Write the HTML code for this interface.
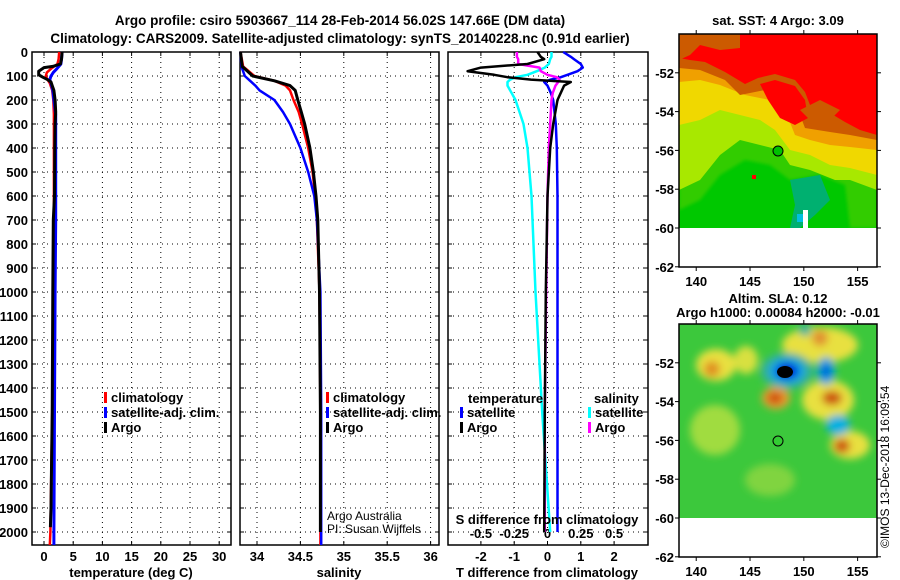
<!DOCTYPE html>
<html><head><meta charset="utf-8">
<style>
body{margin:0;background:#fff;}
svg{display:block;font-family:"Liberation Sans",sans-serif;}
.b{font-weight:bold;font-size:13px;}
.t{font-weight:bold;font-size:13.5px;}
</style></head>
<body>
<svg id="fig" width="900" height="580" viewBox="0 0 900 580" xmlns="http://www.w3.org/2000/svg">
<defs>
<filter id="blur3"><feGaussianBlur stdDeviation="4"/></filter>
<filter id="blur1"><feGaussianBlur stdDeviation="1.5"/></filter>
<clipPath id="m1c"><rect x="679" y="34" width="198" height="194"/></clipPath>
<clipPath id="m2c"><rect x="679" y="324" width="198" height="194"/></clipPath>
</defs>
<text class="t" x="340" y="25" text-anchor="middle">Argo profile: csiro 5903667_114 28-Feb-2014 56.02S 147.66E (DM data)</text>
<text class="t" x="340" y="43" text-anchor="middle">Climatology: CARS2009. Satellite-adjusted climatology: synTS_20140228.nc (0.91d earlier)</text>

<!-- Map 1 SST -->
<g>
<g clip-path="url(#m1c)">
<rect x="679" y="34" width="198" height="194" fill="#00c800"/>
<path d="M679 34H877V228H850L845 185L820 175L790 180L770 165L745 160L720 175L700 200L679 210Z" fill="#33cc00" filter="url(#blur1)"/>
<path d="M679 34H877V190L850 180L835 180L810 170L790 165L780 150L760 145L740 140L720 155L700 180L679 190Z" fill="#a8e800"/>
<path d="M679 34H877V175L850 168L830 165L810 155L790 150L775 130L760 120L740 115L720 110L700 120L679 125Z" fill="#f0d800"/>
<path d="M679 34H877V150L850 147L830 145L810 140L795 135L785 110L770 100L745 95L720 85L700 80L679 82Z" fill="#f0a000"/>
<path d="M679 34H877V140L850 135L830 132L805 128L800 115L790 95L775 88L755 92L740 95L725 80L700 70L679 68Z" fill="#cc5a00"/>
<path d="M679 34H877V135L860 130L845 122L825 110L810 105L805 92L795 80L775 74L758 78L745 84L725 72L705 62L690 60L679 58Z" fill="#ff0000"/>
<path d="M679 34H740V48L720 50L700 45L690 55L679 60Z" fill="#cc5a00"/>
<path d="M760 84L775 80L795 86L805 100L808 118L795 125L780 118L768 100Z" fill="#ff0000"/>
<path d="M800 110L820 100L840 110L830 120L810 120Z" fill="#cc5a00"/>
<path d="M790 180L820 175L830 200L815 215L800 228H790L795 205Z" fill="#00b070"/>
<rect x="803" y="210" width="5" height="18" fill="#fff"/>
<rect x="797" y="214" width="6" height="8" fill="#00c0e0"/>
<rect x="752" y="175" width="4" height="4" fill="#ff0000"/>
</g>
<rect x="679" y="228" width="198" height="39" fill="#fff"/>
<circle cx="778" cy="151" r="5" fill="#00c000" stroke="#000" stroke-width="1"/>
<rect x="679" y="34" width="198" height="233" fill="none" stroke="#000" stroke-width="1.5"/>
<text class="b" x="778" y="25" text-anchor="middle">sat. SST: 4 Argo: 3.09</text>
</g>
<g id="m1axes"></g>

<!-- Map 2 SLA -->
<g>
<g clip-path="url(#m2c)">
<rect x="679" y="324" width="198" height="194" fill="#3cc83c"/>
<g filter="url(#blur3)">
<ellipse cx="716" cy="365" rx="20" ry="16" fill="#e8e040"/>
<ellipse cx="746" cy="360" rx="12" ry="14" fill="#d8e040"/>
<ellipse cx="820" cy="345" rx="38" ry="18" fill="#e8e040"/>
<ellipse cx="828" cy="400" rx="26" ry="20" fill="#e8e040"/>
<ellipse cx="850" cy="445" rx="20" ry="14" fill="#e8e040"/>
<ellipse cx="715" cy="430" rx="25" ry="25" fill="#a0dc40"/>
<ellipse cx="770" cy="480" rx="25" ry="16" fill="#80d440"/>
<ellipse cx="712" cy="369" rx="8" ry="8" fill="#e09020"/>
<ellipse cx="776" cy="398" rx="14" ry="11" fill="#f0a030"/>
<ellipse cx="775" cy="398" rx="8" ry="6" fill="#cc5010"/>
<ellipse cx="832" cy="398" rx="10" ry="7" fill="#cc5010"/>
<ellipse cx="842" cy="446" rx="8" ry="7" fill="#cc5010"/>
<ellipse cx="820" cy="338" rx="8" ry="8" fill="#e09030"/>
<ellipse cx="787" cy="371" rx="26" ry="18" fill="#30b0a0"/>
<ellipse cx="787" cy="371" rx="17" ry="12" fill="#00a0f0"/>
<ellipse cx="787" cy="371" rx="11" ry="8" fill="#0000d0"/>
<ellipse cx="826" cy="371" rx="9" ry="14" fill="#00a0e0"/>
<ellipse cx="826" cy="371" rx="3" ry="6" fill="#0000d0"/>
<ellipse cx="838" cy="425" rx="12" ry="10" fill="#00b0e0"/>
<ellipse cx="805" cy="330" rx="6" ry="6" fill="#30b0a0"/>
</g>
<ellipse cx="785" cy="372" rx="8" ry="6" fill="#000"/>
</g>
<rect x="679" y="518" width="198" height="39" fill="#fff"/>
<circle cx="778" cy="441" r="5" fill="#33cc33" stroke="#000" stroke-width="1"/>
<rect x="679" y="324" width="198" height="233" fill="none" stroke="#000" stroke-width="1.5"/>
<text class="b" x="778" y="303" text-anchor="middle">Altim. SLA: 0.12</text>
<text class="b" x="778" y="317" text-anchor="middle">Argo h1000: 0.00084 h2000: -0.01</text>
</g>
<g id="m2axes"></g>
<text font-size="12" transform="translate(889,548) rotate(-90)">©IMOS 13-Dec-2018 16:09:54</text>

<g id="p1"></g><g id="p2"></g><g id="p3"></g>
</svg>
<script>
// ---- data ----
const depthArgo = [0,30,50,60,65,80,95,105,115,125,140,160,200,250,300,400,600,700,1000,1500,1900,1980];
const tempArgo  = [3.1,3.0,2.8,1.5,0.0,-0.9,-0.9,-0.2,0.6,1.2,1.4,1.7,1.9,2.0,1.9,1.85,1.8,1.6,1.5,1.4,1.2,1.1];
const depthClim = [0,30,50,70,85,100,115,130,160,200,260,400,700,1000,1500,2000,2054];
const tempClim  = [2.6,2.5,2.3,1.2,0.5,0.3,0.6,1.0,1.4,1.6,1.7,1.7,1.7,1.6,1.4,1.1,1.0];
const tempSat   = [3.1,3.0,2.9,2.2,1.6,1.2,1.0,1.2,1.5,1.7,2.0,2.0,2.0,1.9,1.8,1.7,1.7];
const depthSal  = [0,60,100,120,140,160,200,250,300,400,500,600,700,1000,1500,2000,2054];
const salArgo   = [33.81,33.83,33.95,34.2,34.38,34.44,34.47,34.51,34.55,34.61,34.65,34.68,34.70,34.72,34.73,34.73,34.73];
const salClim   = [33.81,33.84,33.97,34.2,34.33,34.38,34.42,34.48,34.52,34.59,34.64,34.67,34.69,34.72,34.73,34.73,34.73];
const salSat    = [33.81,33.82,33.86,33.92,33.98,34.03,34.2,34.3,34.38,34.5,34.59,34.66,34.69,34.73,34.74,34.74,34.74];
const depthDiff = [0,20,30,50,65,80,95,105,115,125,140,170,200,300,400,600,1000,1500,2000];
const tdiffArgo = [-0.3,-0.2,-0.1,-0.6,-2.0,-2.4,-1.6,-1.2,-0.5,0.7,0.5,0.4,0.3,0.17,0.08,0.0,-0.05,-0.08,-0.1];
const tdiffSat  = [0.47,0.7,0.8,1.0,1.06,0.9,0.6,0.4,0.1,-0.1,0.0,0.1,0.17,0.25,0.28,0.3,0.3,0.3,0.3];
const sdiffArgo = [-0.23,-0.23,-0.22,-0.22,-0.06,-0.05,0.0,0.07,0.09,0.08,0.06,0.04,0.03,0.02,0.01,0.0,-0.01,-0.02,-0.02];
const sdiffSat  = [0.03,0.03,0.02,0.01,-0.02,-0.08,-0.15,-0.24,-0.28,-0.3,-0.3,-0.27,-0.24,-0.18,-0.15,-0.12,-0.09,-0.04,0.02];
const depthTicks = [0,100,200,300,400,500,600,700,800,900,1000,1100,1200,1300,1400,1500,1600,1700,1800,1900,2000];
const tempTicks = [0,5,10,15,20,25,30];
const salTicks = [34,34.5,35,35.5,36];
const tdiffTicks = [-2,-1,0,1,2];
const sdiffTicks = [-0.5,-0.25,0,0.25,0.5];
const lonTicks = [140,145,150,155];
const latTicks = [-52,-54,-56,-58,-60,-62];

const NS="http://www.w3.org/2000/svg";
function mk(parent,tag,attrs,text){const e=document.createElementNS(NS,tag);for(const k in attrs)e.setAttribute(k,attrs[k]);if(text!==undefined)e.textContent=text;parent.appendChild(e);return e;}
const TOP=52, BOT=545;
const yD = d => TOP + d*0.24;

function panel(g,x0,x1,xs,ticks,fmt){
  for(const t of ticks){const x=xs(t);
    const l=mk(g,'line',{x1:x,x2:x,y1:TOP,y2:BOT,stroke:'#000','stroke-dasharray':'1,4','stroke-width':1});
    
    
    mk(g,'line',{x1:x,x2:x,y1:BOT,y2:BOT-4,stroke:'#000'});
    mk(g,'line',{x1:x,x2:x,y1:TOP,y2:TOP+4,stroke:'#000'});
    if(fmt){const tx=mk(g,'text',{x:x,y:BOT+16,'text-anchor':'middle',class:'b'},fmt(t));
      
      }
  }
  for(const d of depthTicks){const y=yD(d);
    const l=mk(g,'line',{x1:x0,x2:x1,y1:y,y2:y,stroke:'#000','stroke-dasharray':'1,4'});
    
    
    mk(g,'line',{x1:x0,x2:x0+4,y1:y,y2:y,stroke:'#000'});
    mk(g,'line',{x1:x1,x2:x1-4,y1:y,y2:y,stroke:'#000'});
  }
  const r=mk(g,'rect',{x:x0,y:TOP,width:x1-x0,height:BOT-TOP,fill:'none',stroke:'#000','stroke-width':1.5});
  
  
}
function line(g,xs,vals,depths,color,w,name){
  const pts=vals.map((v,i)=>xs(v).toFixed(1)+','+yD(depths[i]).toFixed(1)).join(' ');
  const p=mk(g,'polyline',{points:pts,fill:'none',stroke:color,'stroke-width':w,'stroke-linejoin':'round'});
  
  
}
function legend(g,x,y,color,label){
  mk(g,'rect',{x:x,y:y-10,width:3,height:11,fill:color});
  const t=mk(g,'text',{x:x+7,y:y,class:'b','font-size':12},label);
  
  
}

// Panel 1
const p1=document.getElementById('p1');


const xT = v => 44 + v*5.84;
panel(p1,32,231,xT,tempTicks,t=>String(t));
for(const d of depthTicks){const t=mk(p1,'text',{x:28,y:yD(d)+5,'text-anchor':'end',class:'b'},String(d));
  
  }
line(p1,xT,tempClim,depthClim,'#f00',2.5,'temperature-climatology-line');
line(p1,xT,tempSat,depthClim,'#00f',3,'temperature-satellite-line');
line(p1,xT,tempArgo,depthArgo,'#000',3,'temperature-argo-line');
legend(p1,104,402,'#f00','climatology');
legend(p1,104,417,'#00f','satellite-adj. clim.');
legend(p1,104,432,'#000','Argo');
let t1=mk(p1,'text',{x:131,y:577,'text-anchor':'middle',class:'b'},'temperature (deg C)');



// Panel 2
const p2=document.getElementById('p2');


const xS = v => 257 + (v-34)*86.8;
panel(p2,240,439,xS,salTicks,t=>String(t));
line(p2,xS,salClim,depthSal,'#f00',2.5,'salinity-climatology-line');
line(p2,xS,salSat,depthSal,'#00f',2.5,'salinity-satellite-line');
line(p2,xS,salArgo,depthSal.slice(0,16),'#000',3,'salinity-argo-line');
legend(p2,326,402,'#f00','climatology');
legend(p2,326,417,'#00f','satellite-adj. clim.');
legend(p2,326,432,'#000','Argo');
let c1=mk(p2,'text',{x:327,y:520,'font-size':12},'Argo Australia');


let c2=mk(p2,'text',{x:327,y:533,'font-size':12},'PI: Susan Wijffels');


let t2=mk(p2,'text',{x:339,y:577,'text-anchor':'middle',class:'b'},'salinity');



// Panel 3
const p3=document.getElementById('p3');


const xTd = v => 547.5 + v*33.3;
const xSd = v => 547.5 + v*133.2;
panel(p3,448,648,xTd,tdiffTicks,t=>String(t));
for(const s of sdiffTicks){const t=mk(p3,'text',{x:xSd(s),y:538,'text-anchor':'middle',class:'b'},String(s));
  
  }
line(p3,xSd,sdiffSat,depthDiff,'#0ff',2.5,'salinity-diff-satellite-line');
line(p3,xTd,tdiffSat,depthDiff,'#00f',2.5,'temperature-diff-satellite-line');
line(p3,xSd,sdiffArgo,depthDiff,'#f0f',2.5,'salinity-diff-argo-line');
line(p3,xTd,tdiffArgo,depthDiff,'#000',2.5,'temperature-diff-argo-line');
let lt=mk(p3,'text',{x:468,y:403,class:'b','font-size':12},'temperature');


legend(p3,460,417,'#00f','satellite');
legend(p3,460,432,'#000','Argo');
let ls=mk(p3,'text',{x:594,y:403,class:'b','font-size':12},'salinity');


legend(p3,588,417,'#0ff','satellite');
legend(p3,588,432,'#f0f','Argo');
let sd=mk(p3,'text',{x:547,y:524,'text-anchor':'middle',class:'b'},'S difference from climatology');


let t3=mk(p3,'text',{x:547,y:577,'text-anchor':'middle',class:'b'},'T difference from climatology');



// Map axes
function mapAxes(gid,top){
  const g=document.getElementById(gid);
  const xL = v => 679 + (v-138.4)*10.76;
  const yL = v => top + (-50 - v)*19.4;
  for(const lon of lonTicks){const x=xL(lon);
    mk(g,'line',{x1:x,x2:x,y1:top,y2:top-4,stroke:'#000'});
    mk(g,'line',{x1:x,x2:x,y1:top+233,y2:top+237,stroke:'#000'});
    const t=mk(g,'text',{x:x,y:top+252,'text-anchor':'middle',class:'b'},String(lon));
    
    }
  for(const lat of latTicks){const y=yL(lat);
    mk(g,'line',{x1:877,x2:881,y1:y,y2:y,stroke:'#000'});
    mk(g,'line',{x1:679,x2:675,y1:y,y2:y,stroke:'#000'});
    const t=mk(g,'text',{x:674,y:y+5,'text-anchor':'end',class:'b'},String(lat));
    
    }
}
mapAxes('m1axes',34);
mapAxes('m2axes',324);
</script>
</body></html>
